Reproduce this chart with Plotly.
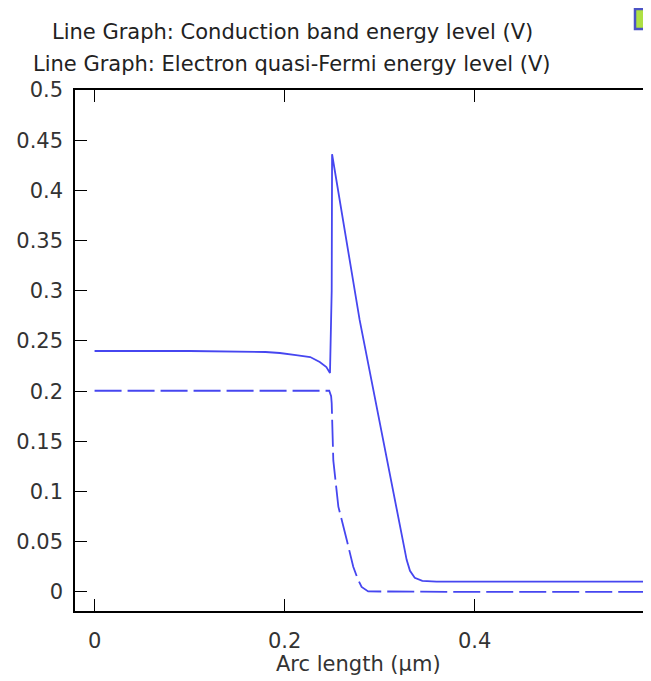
import plotly.graph_objects as go

# Conduction band energy level (V) - solid
cb_x = [0.0, 0.10, 0.18, 0.195, 0.212, 0.227, 0.237, 0.244, 0.2478, 0.2496, 0.2500,
        0.279, 0.3285, 0.332, 0.337, 0.345, 0.36, 0.45, 0.578]
cb_y = [0.240, 0.240, 0.239, 0.238, 0.236, 0.234, 0.229, 0.224, 0.218, 0.300, 0.436,
        0.271, 0.032, 0.021, 0.014, 0.011, 0.0103, 0.0103, 0.0103]

# Electron quasi-Fermi energy level (V) - dashed
qf_x = [0.0, 0.10, 0.20, 0.247, 0.2490, 0.2496, 0.2513, 0.2566, 0.2654, 0.2723,
        0.2770, 0.2811, 0.288, 0.40, 0.578]
qf_y = [0.2004, 0.2004, 0.2004, 0.2004, 0.195, 0.188, 0.131, 0.085, 0.052, 0.025,
        0.013, 0.005, 0.0005, 0.0, 0.0]

x_ticks = [0.0, 0.2, 0.4]
x_ticktext = ["0", "0.2", "0.4"]
y_ticks = [0.0, 0.05, 0.1, 0.15, 0.2, 0.25, 0.3, 0.35, 0.4, 0.45, 0.5]
y_ticktext = ["0", "0.05", "0.1", "0.15", "0.2", "0.25", "0.3", "0.35", "0.4", "0.45", "0.5"]

title_lines = ["Line Graph: Conduction band energy level (V)",
               "Line Graph: Electron quasi-Fermi energy level (V)"]
x_title = "Arc length (µm)"

LINE_COLOR = "#4646f0"
FONT = "DejaVu Sans"
FS = 21

# page body has an 8px margin; figure is sized so it fills the window
OFF = 8
W, H = 651 - OFF, 681 - OFF
# desired plot area in window pixels: x 75..651, y 90..611
L, R, T, B = 75 - OFF, 0, 90 - OFF, 681 - 611
pw, ph = W - L - R, H - T - B

def px_x(px):
    return (px - OFF - L) / pw

def px_y(py):
    return (H - B - (py - OFF)) / ph

fig = go.Figure()
fig.add_trace(go.Scatter(x=cb_x, y=cb_y, mode="lines",
                         line=dict(color=LINE_COLOR, width=1.8),
                         name="Conduction band", showlegend=False))
fig.add_trace(go.Scatter(x=qf_x, y=qf_y, mode="lines",
                         line=dict(color=LINE_COLOR, width=1.8, dash="27px,6px"),
                         name="Quasi-Fermi", showlegend=False))

fig.update_layout(
    width=W, height=H,
    margin=dict(l=L, r=R, t=T, b=B, pad=0),
    paper_bgcolor="white", plot_bgcolor="white",
    font=dict(family=FONT, size=FS, color="#333333"),
    xaxis=dict(range=[-0.0206, 0.5857], tickvals=x_ticks, ticktext=x_ticktext,
               ticks="inside", ticklen=12, tickcolor="black", tickwidth=1.2,
               showline=True, linecolor="black", linewidth=1.5, mirror="ticks",
               showgrid=False, zeroline=False, ticklabelstandoff=10,
               tickfont=dict(size=FS, color="#333333")),
    yaxis=dict(range=[-0.019, 0.5], tickvals=y_ticks, ticktext=y_ticktext,
               ticks="inside", ticklen=12, tickcolor="black", tickwidth=1.2,
               showline=True, linecolor="black", linewidth=1.5, mirror=False,
               showgrid=False, zeroline=False, ticklabelstandoff=6,
               tickfont=dict(size=FS, color="#333333")),
)

for txt, yc in zip(title_lines, [32, 64]):
    fig.add_annotation(text=txt, xref="paper", yref="paper",
                       x=px_x(292), y=px_y(yc), xanchor="center", yanchor="middle",
                       showarrow=False, font=dict(family=FONT, size=FS, color="#222222"))

fig.add_annotation(text=x_title, xref="paper", yref="paper",
                   x=px_x(358), y=px_y(664), xanchor="center", yanchor="middle",
                   showarrow=False, font=dict(family=FONT, size=FS, color="#333333"))

# small legend icon fragment at top-right (cut by the window edge)
fig.add_shape(type="rect", xref="paper", yref="paper",
              x0=px_x(635), x1=px_x(660), y0=px_y(29), y1=px_y(9),
              fillcolor="#aee043", line=dict(color="#4a52c4", width=2.5))

fig.write_html("out.html")
